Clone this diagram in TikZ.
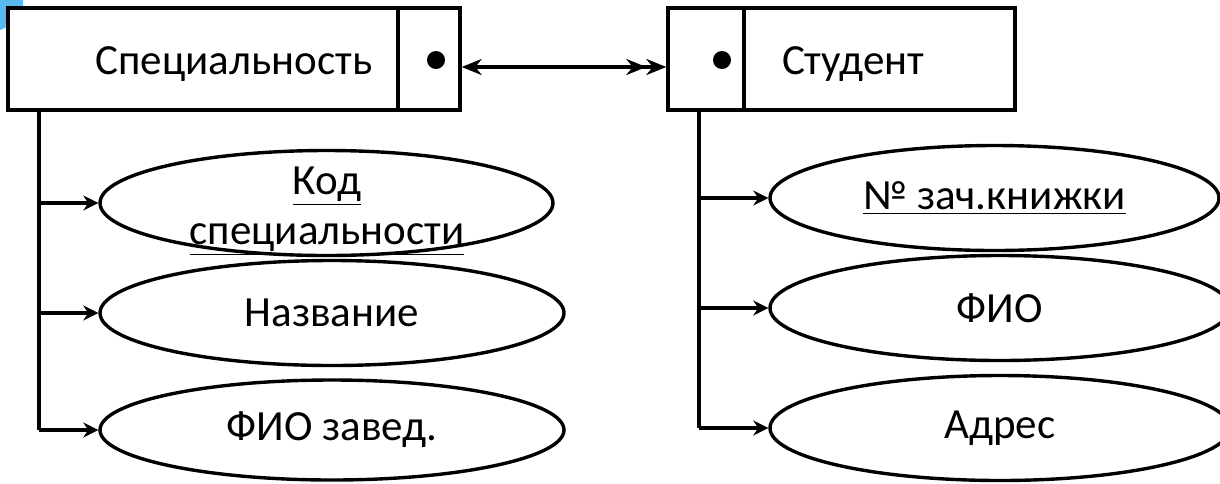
\documentclass[tikz,border=0pt]{standalone}
\usepackage{fontspec}
\setmainfont{Carlito}
\usetikzlibrary{shapes.geometric,arrows.meta}
\definecolor{cornerblue}{HTML}{5AB9EF}
\tikzset{
  ent/.style={draw, fill=white, line width=1.7pt, inner sep=0pt, minimum height=51pt},
  attr/.style={draw, ellipse, line width=1.7pt, inner sep=0pt, minimum height=52.5pt},
  keydot/.style={circle, fill=black, inner sep=0pt, minimum size=9pt},
  lnk/.style={line width=1.7pt, -{Stealth[length=7.5pt,width=7.5pt]}},
  rel/.style={line width=1.7pt,
    {Stealth[length=10pt,width=8pt]}-{Stealth[length=10pt,width=8pt]Stealth[length=10pt,width=8pt]}}
}
\begin{document}
\begin{tikzpicture}[x=0.5pt, y=-0.5pt, font=\fontsize{21.5}{25}\selectfont]
        \useasboundingbox (0,0) rectangle (1220,483);
        \clip (0,0) rectangle (1220,483);
        \fill[cornerblue] (0,0) -- (23,0) -- (23,20) -- (0,30) -- cycle;

        % entities
        \node[ent, minimum width=195pt]   (spec)    at (203,59)   {};
        \node[ent, minimum width=31pt]    (specdot) at (429,59)   {};
        \node[ent, minimum width=38pt]    (studdot) at (706,59)   {};
        \node[ent, minimum width=135.5pt] (stud)    at (879.5,59) {};
        \node (spectxt) at (234,64) {Специальность};
        \node (studtxt) at (853,64) {Студент};
        \node[keydot] (specpk) at (436,60) {};
        \node[keydot] (studpk) at (722,60) {};

        \draw[rel] ([yshift=-4pt]specdot.east) -- ([yshift=-4pt]studdot.west);

        % attributes
        \node[attr, minimum width=226.5pt] (kod)    at (326.5,203) {};
        \node[align=center] (kodtxt) at (327,211) {\underline{Код}\\\underline{специальности}};
        \node[attr, minimum width=232pt]   (nazv)   at (332,313)   {Название};
        \node[attr, minimum width=232pt, minimum height=50pt] (fiozav) at (332,430) {ФИО завед.};

        \node[attr, minimum width=224.5pt] (nzach)  at (994.5,198) {\underline{№ зач.книжки}};
        \node[attr, minimum width=230pt]   (fio)    at (1000,308)  {ФИО};
        \node[attr, minimum width=230pt]   (adres)  at (1000,428)  {Адрес};

        % links
        \coordinate (spectrunk) at (39,110);
        \coordinate (studtrunk) at (699,110);
        \draw[line width=1.7pt] (spectrunk) -- (spectrunk |- fiozav.west);
        \draw[lnk] (spectrunk |- kod.west)    -- (kod.west);
        \draw[lnk] (spectrunk |- nazv.west)   -- (nazv.west);
        \draw[lnk] (spectrunk |- fiozav.west) -- (fiozav.west);
        \draw[line width=1.7pt] (studtrunk) -- (studtrunk |- adres.west);
        \draw[lnk] (studtrunk |- nzach.west)  -- (nzach.west);
        \draw[lnk] (studtrunk |- fio.west)    -- (fio.west);
        \draw[lnk] (studtrunk |- adres.west)  -- (adres.west);
\end{tikzpicture}
\end{document}
